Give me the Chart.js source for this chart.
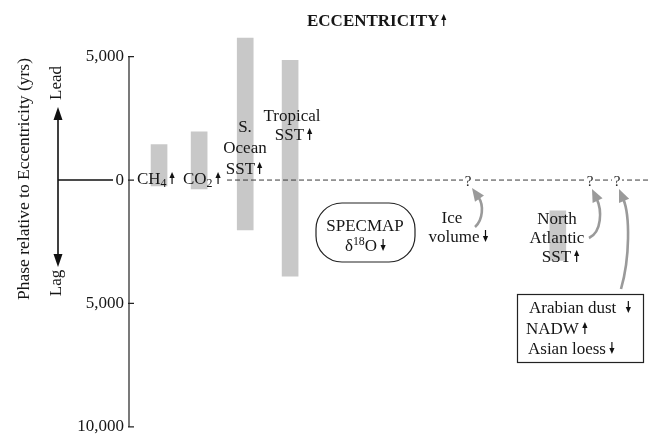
<!DOCTYPE html>
<html>
<head>
<meta charset="utf-8">
<script src="https://cdn.jsdelivr.net/npm/chart.js@4"></script>
<style>
html, body { margin: 0; padding: 0; background: #fff; }
#wrap { width: 650px; height: 442px; position: relative; }
</style>
</head>
<body>
<div id="wrap"><canvas id="myChart"></canvas></div>
<script>
// records with a measured phase band (yrs, + = lead, - = lag)
const categories = ["CH4", "CO2", "S. Ocean SST", "Tropical SST", "North Atlantic SST"];
const slots = [0, 1, 2.15, 3.27, 9.95];
const phaseHigh = [1440, 1950, 5750, 4850, -1250];
const phaseLow = [-240, -360, -2025, -3900, -3260];
const yTicks = [-10000, -5000, 0, 5000];

const SERIF = "'Liberation Serif', 'Times New Roman', serif";
const FS = 17;

const barData = slots.map((x, i) => ({ x: x, y: [phaseLow[i], phaseHigh[i]] }));

// little arrow glyph like the ones in the figure
const glyphArrow = (ctx, x, base, dir, h) => {
	h = h || 12;
	const top = base - h;
	ctx.save();
	ctx.strokeStyle = "#111";
	ctx.fillStyle = "#111";
	ctx.lineWidth = 1.2;
	ctx.beginPath();
	if (dir === "up") {
		ctx.moveTo(x, base);
		ctx.lineTo(x, top + 4);
		ctx.stroke();
		ctx.beginPath();
		ctx.moveTo(x, top);
		ctx.lineTo(x - 2.6, top + 6);
		ctx.lineTo(x + 2.6, top + 6);
	} else {
		ctx.moveTo(x, top);
		ctx.lineTo(x, base - 4);
		ctx.stroke();
		ctx.beginPath();
		ctx.moveTo(x, base);
		ctx.lineTo(x - 2.6, base - 6);
		ctx.lineTo(x + 2.6, base - 6);
	}
	ctx.closePath();
	ctx.fill();
	ctx.restore();
};

// text made of parts: {t}, {sub}, {sup}, {arrow}
const rich = (ctx, parts, x, base, align, size, bold) => {
	size = size || FS;
	const w = bold ? "bold " : "";
	const small = size * 0.7;
	let total = 0;
	parts.forEach((p) => {
		if (p.t !== undefined) { ctx.font = w + size + "px " + SERIF; p.w = ctx.measureText(p.t).width; }
		else if (p.sub !== undefined || p.sup !== undefined) { ctx.font = w + small + "px " + SERIF; p.w = ctx.measureText(p.sub || p.sup).width; }
		else p.w = p.gap !== undefined ? p.gap : 7;
		total += p.w;
	});
	let cx = align === "center" ? x - total / 2 : align === "right" ? x - total : x;
	ctx.textAlign = "left";
	ctx.textBaseline = "alphabetic";
	ctx.fillStyle = "#161616";
	parts.forEach((p) => {
		if (p.t !== undefined) { ctx.font = w + size + "px " + SERIF; ctx.fillText(p.t, cx, base); }
		else if (p.sub !== undefined) { ctx.font = w + small + "px " + SERIF; ctx.fillText(p.sub, cx, base + 3); }
		else if (p.sup !== undefined) { ctx.font = w + small + "px " + SERIF; ctx.fillText(p.sup, cx, base - 6); }
		else if (p.arrow) glyphArrow(ctx, cx + p.w / 2, base, p.arrow, p.h);
		cx += p.w;
	});
};

const grayArrow = (ctx, s, c1, c2, e) => {
	const dx = e[0] - c2[0], dy = e[1] - c2[1];
	const len = Math.hypot(dx, dy);
	const ux = dx / len, uy = dy / len;
	const hl = 13, hw = 5.5;
	const bx = e[0] - ux * hl, by = e[1] - uy * hl;
	ctx.save();
	ctx.strokeStyle = "#9a9a9a";
	ctx.fillStyle = "#9a9a9a";
	ctx.lineWidth = 2.6;
	ctx.beginPath();
	ctx.moveTo(s[0], s[1]);
	ctx.bezierCurveTo(c1[0], c1[1], c2[0], c2[1], bx + ux * 2, by + uy * 2);
	ctx.stroke();
	ctx.beginPath();
	ctx.moveTo(e[0], e[1]);
	ctx.lineTo(bx - uy * hw, by + ux * hw);
	ctx.lineTo(bx + uy * hw, by - ux * hw);
	ctx.closePath();
	ctx.fill();
	ctx.restore();
};

const blackArrowHead = (ctx, x, y, dir) => {
	ctx.beginPath();
	ctx.moveTo(x, y);
	ctx.lineTo(x - 4.5, y - dir * 13);
	ctx.lineTo(x + 4.5, y - dir * 13);
	ctx.closePath();
	ctx.fill();
};

const annotations = {
	id: "annotations",
	afterDraw(chart) {
		const ctx = chart.ctx;
		const ys = chart.scales.y;
		const area = chart.chartArea;
		const y0 = ys.getPixelForValue(0);
		ctx.save();

		// axis line + inward ticks
		ctx.strokeStyle = "#222";
		ctx.lineWidth = 1.2;
		ctx.beginPath();
		ctx.moveTo(area.left, ys.getPixelForValue(5000));
		ctx.lineTo(area.left, ys.getPixelForValue(-10000));
		yTicks.forEach((v) => {
			const p = ys.getPixelForValue(v);
			ctx.moveTo(area.left - 1, p);
			ctx.lineTo(area.left + 5, p);
		});
		ctx.stroke();

		// zero line, dashed
		ctx.strokeStyle = "#3a3a3a";
		ctx.lineWidth = 1;
		ctx.setLineDash([5, 3]);
		ctx.beginPath();
		ctx.moveTo(227, y0);
		ctx.lineTo(area.right, y0);
		ctx.stroke();
		ctx.setLineDash([]);

		// question marks on the zero line
		[468, 590, 617].forEach((qx) => {
			ctx.fillStyle = "#fff";
			ctx.fillRect(qx - 5, y0 - 2, 10, 4);
			ctx.font = "15px " + SERIF;
			ctx.fillStyle = "#222";
			ctx.textAlign = "center";
			ctx.textBaseline = "alphabetic";
			ctx.fillText("?", qx, y0 + 6);
		});

		// lead / lag arrows
		ctx.strokeStyle = "#111";
		ctx.fillStyle = "#111";
		ctx.lineWidth = 1.6;
		ctx.beginPath();
		ctx.moveTo(58, 118);
		ctx.lineTo(58, 257);
		ctx.moveTo(58, y0);
		ctx.lineTo(113, y0);
		ctx.stroke();
		blackArrowHead(ctx, 58, 107, -1);
		blackArrowHead(ctx, 58, 267, 1);

		// rotated texts
		ctx.fillStyle = "#161616";
		ctx.textAlign = "center";
		ctx.textBaseline = "middle";
		[["Phase relative to Eccentricity (yrs)", 24, 179, 17.5], ["Lead", 57, 83, FS], ["Lag", 57, 283, FS]].forEach((r) => {
			ctx.save();
			ctx.font = r[3] + "px " + SERIF;
			ctx.translate(r[1], r[2]);
			ctx.rotate(-Math.PI / 2);
			ctx.fillText(r[0], 0, 0);
			ctx.restore();
		});

		// title
		rich(ctx, [{ t: "ECCENTRICITY" }, { arrow: "up", gap: 9, h: 12 }], 307, 26, "left", 17, true);

		// labels near the bars
		rich(ctx, [{ t: "CH" }, { sub: "4" }, { arrow: "up", gap: 11 }], 137, 184, "left");
		rich(ctx, [{ t: "CO" }, { sub: "2" }, { arrow: "up", gap: 11 }], 183, 184, "left");
		rich(ctx, [{ t: "S." }], 245, 132, "center");
		rich(ctx, [{ t: "Ocean" }], 245, 153, "center");
		rich(ctx, [{ t: "SST" }, { arrow: "up", gap: 9 }], 245, 174, "center");
		rich(ctx, [{ t: "Tropical" }], 292, 121, "center");
		rich(ctx, [{ t: "SST" }, { arrow: "up", gap: 11 }], 295, 140, "center");

		// SPECMAP rounded box
		ctx.strokeStyle = "#222";
		ctx.lineWidth = 1.2;
		ctx.beginPath();
		ctx.roundRect(316, 203, 99, 59, 26);
		ctx.stroke();
		rich(ctx, [{ t: "SPECMAP" }], 365, 231, "center");
		rich(ctx, [{ t: "δ" }, { sup: "18" }, { t: "O" }, { arrow: "down", gap: 12 }], 367, 251, "center");

		rich(ctx, [{ t: "Ice" }], 452, 223, "center");
		rich(ctx, [{ t: "volume" }, { arrow: "down", gap: 12 }], 460, 242, "center");

		rich(ctx, [{ t: "North" }], 557, 224, "center");
		rich(ctx, [{ t: "Atlantic" }], 557, 243, "center");
		rich(ctx, [{ t: "SST" }, { arrow: "up", gap: 11 }], 562, 262, "center");

		// box of other records
		ctx.strokeStyle = "#222";
		ctx.lineWidth = 1.2;
		ctx.strokeRect(517.5, 294.5, 126, 68);
		rich(ctx, [{ t: "Arabian dust" }, { arrow: "down", gap: 24 }], 529, 313, "left");
		rich(ctx, [{ t: "NADW" }, { arrow: "up", gap: 12 }], 526, 334, "left");
		rich(ctx, [{ t: "Asian loess" }, { arrow: "down", gap: 12 }], 528, 354, "left");

		// gray curved arrows pointing at the unknown phases
		grayArrow(ctx, [475, 227], [483, 220], [484, 205], [472, 188]);
		grayArrow(ctx, [589, 238], [602, 232], [602, 210], [592, 189]);
		grayArrow(ctx, [621, 289], [630, 258], [630, 215], [619, 189]);

		ctx.restore();
	},
};

const config = {
	type: "bar",
	data: {
		labels: categories,
		datasets: [
			{
				label: "Phase band",
				data: barData,
				backgroundColor: "#c8c8c8",
				borderWidth: 0,
				barThickness: 16,
			},
		],
	},
	options: {
		responsive: true,
		maintainAspectRatio: false,
		animation: false,
		layout: { padding: { top: 32, bottom: 11, left: 0, right: 0 } },
		plugins: { legend: { display: false }, tooltip: { enabled: false } },
		scales: {
			x: { type: "linear", min: -0.75, max: 12.25, offset: false, display: false },
			y: {
				min: -10000,
				max: 6000,
				afterBuildTicks: (scale) => {
					scale.ticks = yTicks.map((v) => ({ value: v }));
				},
				afterFit: (scale) => {
					scale.width = 129;
				},
				grid: { display: false, drawTicks: false },
				border: { display: false },
				ticks: {
					padding: 5,
					color: "#161616",
					font: { family: SERIF, size: FS },
					callback: (v) => Math.abs(v).toLocaleString("en-US"),
				},
			},
		},
	},
	plugins: [annotations],
};

const myChart = new Chart(document.getElementById("myChart"), config);
</script>
</body>
</html>
